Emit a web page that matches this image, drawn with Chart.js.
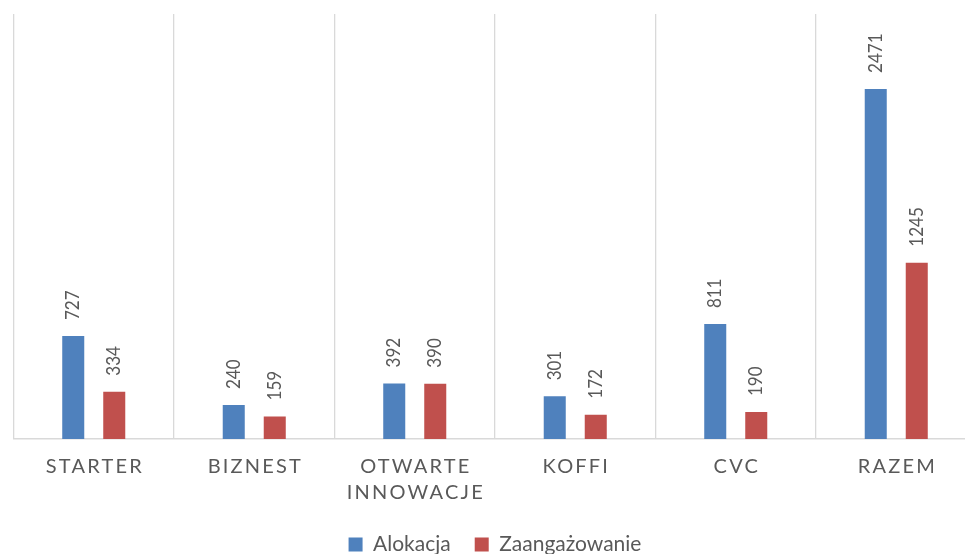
<!DOCTYPE html>
<html>
<head>
<meta charset="utf-8">
<script src="https://cdn.jsdelivr.net/npm/chart.js@4/dist/chart.umd.min.js"></script>
<style>
  html, body { margin: 0; padding: 0; background: #ffffff; overflow: hidden; }
  #wrap { width: 978px; height: 565px; }
</style>
</head>
<body>
<div id="wrap"><canvas id="c" width="978" height="565"></canvas></div>
<script>
const categories = [["STARTER"], ["BIZNEST"], ["OTWARTE", "INNOWACJE"], ["KOFFI"], ["CVC"], ["RAZEM"]];
const seriesNames = ["Alokacja", "Zaangażowanie"];
const alokacja = [727, 240, 392, 301, 811, 2471];
const zaangazowanie = [334, 159, 390, 172, 190, 1245];
const yMax = 3000;

const TEXT = '#595959';

const valueLabels = {
  id: 'valueLabels',
  afterDatasetsDraw(chart) {
    const ctx = chart.ctx;
    chart.data.datasets.forEach((ds, di) => {
      const meta = chart.getDatasetMeta(di);
      meta.data.forEach((el, i) => {
        ctx.save();
        ctx.translate(el.x, el.y - 16);
        ctx.scale(1.1, 1);
        ctx.rotate(-Math.PI / 2);
        ctx.font = '17px Lato';
        ctx.fillStyle = TEXT;
        ctx.textAlign = 'left';
        ctx.textBaseline = 'middle';
        ctx.fillText(String(ds.data[i]), 0, 0);
        ctx.restore();
      });
    });
  }
};

const xLabels = {
  id: 'xLabels',
  afterDraw(chart) {
    const ctx = chart.ctx;
    const sc = chart.scales.x;
    const sp = 2.2;
    ctx.save();
    ctx.font = '20px Lato';
    ctx.fillStyle = TEXT;
    ctx.textAlign = 'center';
    ctx.textBaseline = 'middle';
    if ('letterSpacing' in ctx) ctx.letterSpacing = sp + 'px';
    categories.forEach((lines, i) => {
      const x = sc.getPixelForTick(i) + sp / 2;
      lines.forEach((t, j) => {
        ctx.fillText(t, x, sc.top + 28 + j * 25.5);
      });
    });
    ctx.restore();
  }
};

new Chart(document.getElementById('c'), {
  type: 'bar',
  data: {
    labels: categories,
    datasets: [
      { label: seriesNames[0], data: alokacja, backgroundColor: '#4f81bd', borderWidth: 0 },
      { label: seriesNames[1], data: zaangazowanie, backgroundColor: '#c0504d', borderWidth: 0 }
    ]
  },
  options: {
    responsive: false,
    animation: false,
    devicePixelRatio: 1,
    layout: { padding: { left: 13.5, right: 1.5, top: 14, bottom: 0 } },
    datasets: { bar: { categoryPercentage: 0.511, barPercentage: 0.537 } },
    scales: {
      x: {
        grid: { display: true, offset: true, color: '#d9d9d9', lineWidth: 1.3, drawTicks: false },
        border: { display: true, color: '#d9d9d9', width: 1.5 },
        ticks: { display: false },
        afterFit(scale) { scale.height = 71; }
      },
      y: {
        display: false,
        min: 0,
        max: yMax
      }
    },
    plugins: {
      legend: {
        position: 'bottom',
        labels: {
          boxWidth: 14,
          boxHeight: 14,
          padding: 24,
          color: TEXT,
          font: { family: 'Lato', size: 21 }
        }
      },
      tooltip: { enabled: false }
    }
  },
  plugins: [valueLabels, xLabels]
});
</script>
</body>
</html>
